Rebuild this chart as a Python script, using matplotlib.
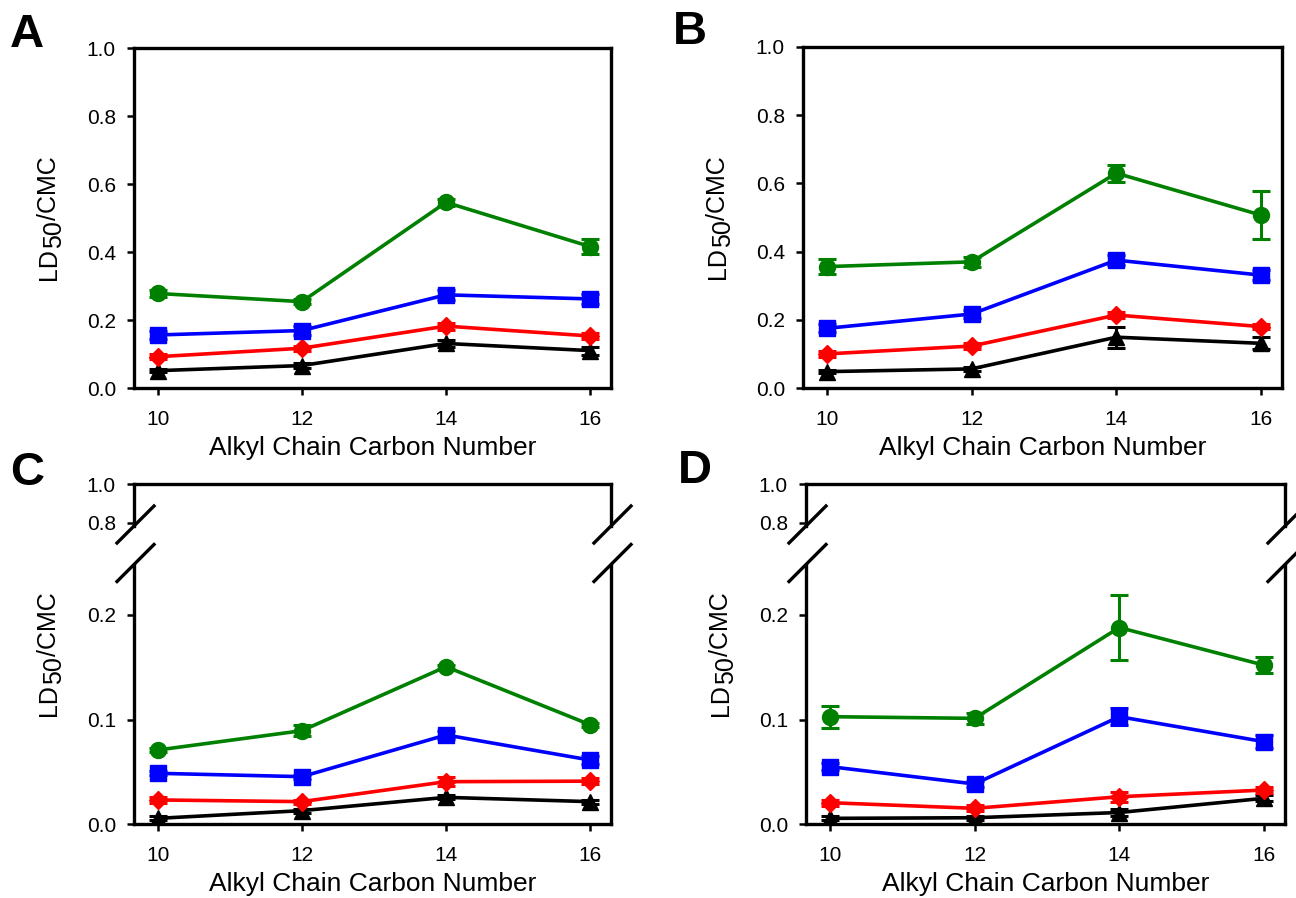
import matplotlib
matplotlib.use("Agg")
import matplotlib.pyplot as plt
from matplotlib.lines import Line2D

plt.rcParams['font.family'] = ['Liberation Sans', 'DejaVu Sans']

# ---------------- data ----------------
carbon = [10, 12, 14, 16]
xticks = [10, 12, 14, 16]

A_green = [0.278, 0.254, 0.546, 0.416]
A_green_err = [0.010, 0.008, 0.010, 0.022]
A_blue = [0.156, 0.169, 0.274, 0.262]
A_blue_err = [0.012, 0.012, 0.015, 0.015]
A_red = [0.092, 0.117, 0.182, 0.153]
A_red_err = [0.008, 0.008, 0.010, 0.008]
A_black = [0.051, 0.066, 0.131, 0.110]
A_black_err = [0.005, 0.008, 0.010, 0.012]

B_green = [0.356, 0.370, 0.630, 0.507]
B_green_err = [0.021, 0.015, 0.025, 0.071]
B_blue = [0.175, 0.217, 0.375, 0.331]
B_blue_err = [0.012, 0.012, 0.015, 0.015]
B_red = [0.100, 0.123, 0.214, 0.180]
B_red_err = [0.008, 0.008, 0.010, 0.008]
B_black = [0.048, 0.056, 0.149, 0.131]
B_black_err = [0.005, 0.006, 0.031, 0.018]

C_green = [0.0708, 0.0893, 0.1505, 0.0950]
C_green_err = [0.002, 0.005, 0.002, 0.002]
C_blue = [0.0485, 0.0453, 0.0852, 0.0612]
C_blue_err = [0.002, 0.002, 0.004, 0.004]
C_red = [0.0230, 0.0214, 0.0405, 0.0410]
C_red_err = [0.003, 0.002, 0.004, 0.003]
C_black = [0.0054, 0.0128, 0.0255, 0.0214]
C_black_err = [0.002, 0.002, 0.002, 0.002]

D_green = [0.1027, 0.1011, 0.188, 0.152]
D_green_err = [0.0105, 0.005, 0.031, 0.0074]
D_blue = [0.0549, 0.0383, 0.1027, 0.0788]
D_blue_err = [0.003, 0.003, 0.008, 0.006]
D_red = [0.0204, 0.0150, 0.0261, 0.0325]
D_red_err = [0.003, 0.003, 0.005, 0.003]
D_black = [0.0054, 0.0060, 0.0110, 0.0246]
D_black_err = [0.002, 0.002, 0.003, 0.003]

xlabel_text = "Alkyl Chain Carbon Number"
panel_letters = ["A", "B", "C", "D"]

# ---------------- layout ----------------
W, H = 1296, 898
fig = plt.figure(figsize=(W / 100, H / 100), dpi=100)

TICK_FS = 15
XLABEL_FS = 19
YLABEL_FS = 18
LW = 2.6
SPINE_LW = 2.4


def rect(l, t, r, b):
    return [l / W, 1 - b / H, (r - l) / W, (b - t) / H]


def style(ax):
    for s in ax.spines.values():
        s.set_linewidth(SPINE_LW)
    ax.tick_params(axis='both', direction='out', length=5, width=1.8,
                   labelsize=TICK_FS, top=False, right=False)
    ax.tick_params(axis='y', pad=8)
    ax.tick_params(axis='x', pad=11)


def plot_series(ax, data):
    g, ge, b, be, r, re_, k, ke = data
    kw = dict(lw=LW, capsize=6.5, capthick=2.2, elinewidth=2.2)
    ax.errorbar(carbon, k, yerr=ke, color='black', marker='^', ms=12, **kw)
    ax.errorbar(carbon, r, yerr=re_, color='#ff0000', marker='D', ms=9.5, **kw)
    ax.errorbar(carbon, b, yerr=be, color='#0000ff', marker='s', ms=12, **kw)
    ax.errorbar(carbon, g, yerr=ge, color='#008000', marker='o', ms=11.5, **kw)


def ylabel(top_px, bottom_px, x_px):
    r = fig.canvas.get_renderer()
    parts = ["LD", "50", "/CMC"]
    shifts = [0, 5, 0]
    widths = []
    for s in parts:
        t = fig.text(0, 0, s, fontsize=YLABEL_FS)
        widths.append(t.get_window_extent(r).width)
        t.remove()
    total = sum(widths)
    yc = H - (top_px + bottom_px) / 2
    pos = yc - total / 2
    for s, w, sh in zip(parts, widths, shifts):
        fig.text((x_px + sh) / W, pos / H, s, fontsize=YLABEL_FS, rotation=90,
                 rotation_mode='anchor', ha='left', va='baseline')
        pos += w


XLIM = (9.67, 16.29)

# Panels A and B: full axes
full_panels = [
    ((134, 48, 611, 388), (A_green, A_green_err, A_blue, A_blue_err, A_red, A_red_err, A_black, A_black_err)),
    ((803, 47, 1282, 388), (B_green, B_green_err, B_blue, B_blue_err, B_red, B_red_err, B_black, B_black_err)),
]
for (l, t, r_, b), data in full_panels:
    ax = fig.add_axes(rect(l, t, r_, b))
    plot_series(ax, data)
    ax.set_xlim(*XLIM)
    ax.set_ylim(0, 1.0)
    ax.set_xticks(xticks)
    ax.set_yticks([0, 0.2, 0.4, 0.6, 0.8, 1.0])
    ax.set_yticklabels(["0.0", "0.2", "0.4", "0.6", "0.8", "1.0"])
    style(ax)
    ax.set_xlabel(xlabel_text, fontsize=XLABEL_FS, labelpad=5)
    ylabel(t, b, l - 78)

# Panels C and D: broken axes
broken_panels = [
    ((134, 484, 611, 824), (C_green, C_green_err, C_blue, C_blue_err, C_red, C_red_err, C_black, C_black_err)),
    ((806, 484, 1285, 824), (D_green, D_green_err, D_blue, D_blue_err, D_red, D_red_err, D_black, D_black_err)),
]
UP_BOTTOM_OFF = 42   # px below top
LOW_TOP_OFF = 81     # px below top
for (l, t, r_, b), data in broken_panels:
    up = fig.add_axes(rect(l, t, r_, t + UP_BOTTOM_OFF))
    lo = fig.add_axes(rect(l, t + LOW_TOP_OFF, r_, b))
    plot_series(lo, data)
    for ax in (up, lo):
        ax.set_xlim(*XLIM)
        style(ax)
    up.set_ylim(1.0 - UP_BOTTOM_OFF / 195.0, 1.0)
    up.set_yticks([0.8, 1.0])
    up.set_yticklabels(["0.8", "1.0"])
    up.set_xticks([])
    up.spines['bottom'].set_visible(False)
    lo.set_ylim(0, (b - t - LOW_TOP_OFF) / 1045.0)
    lo.set_yticks([0, 0.1, 0.2])
    lo.set_yticklabels(["0.0", "0.1", "0.2"])
    lo.set_xticks(xticks)
    lo.spines['top'].set_visible(False)
    lo.set_xlabel(xlabel_text, fontsize=XLABEL_FS, labelpad=5)
    ylabel(t, b, l - 78)
    # break marks
    for sx in (l, r_):
        for cy in (t + UP_BOTTOM_OFF - 1.5, t + LOW_TOP_OFF - 2):
            x0, x1 = sx - 17, sx + 20
            y0, y1 = cy + 18.5, cy - 18.5
            fig.add_artist(Line2D([x0 / W, x1 / W], [1 - y0 / H, 1 - y1 / H],
                                  transform=fig.transFigure, color='black',
                                  lw=2.4, clip_on=False))

# panel letters
letter_pos = [(10, 47), (673, 44), (10, 485), (678, 483)]
for s, (x, y) in zip(panel_letters, letter_pos):
    fig.text(x / W, 1 - y / H, s, fontsize=34, fontweight='bold',
             ha='left', va='baseline')

fig.savefig("out.png", dpi=100)
